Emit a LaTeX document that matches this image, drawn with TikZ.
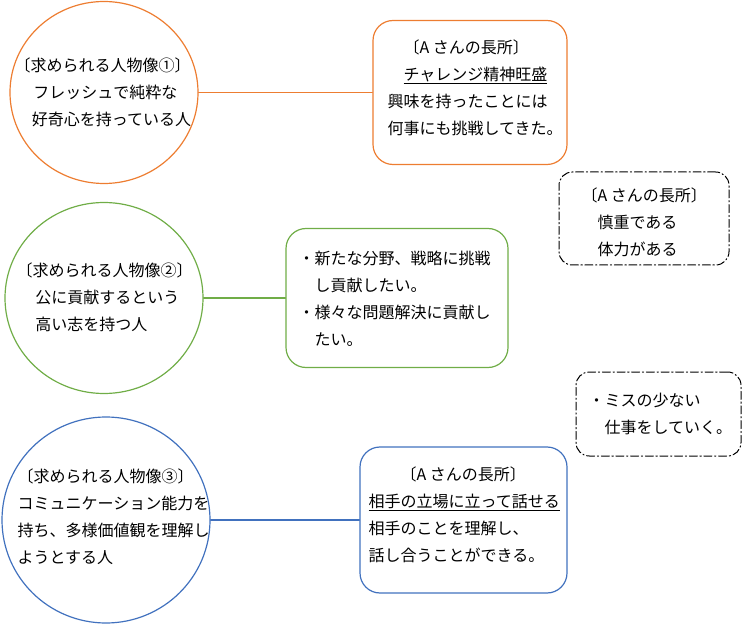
\documentclass[tikz,border=0pt]{standalone}
\usepackage{fontspec}
\setmainfont{Noto Sans CJK JP}
\usetikzlibrary{shapes.geometric}

\definecolor{orangeline}{RGB}{237,125,49}
\definecolor{greenline}{RGB}{112,173,71}
\definecolor{blueline}{RGB}{65,113,190}

\begin{document}
\begin{tikzpicture}[line width=0.9pt, line cap=round, line join=round, x=0.75pt, y=-0.75pt,
  person/.style={ellipse, draw, inner sep=0pt},
  merit/.style={rectangle, draw, rounded corners=15pt, inner sep=0pt},
  note/.style={rectangle, draw=black, line width=0.75pt, rounded corners=10pt,
    dash pattern=on 6pt off 2pt on 1pt off 2pt, inner sep=0pt},
  txt/.style={anchor=north west, align=left, inner sep=0pt, font=\fontsize{12}{20.25}\selectfont}]
  \useasboundingbox (0,0) rectangle (743,624);
  % persons wanted
  \node[person, draw=orangeline, minimum width=141pt, minimum height=136.5pt] (p1) at (104,92.5) {};
  \node[person, draw=greenline, minimum width=148.5pt, minimum height=143.25pt] (p2) at (104,298) {};
  \node[person, draw=blueline, minimum width=156pt, minimum height=154.5pt] (p3) at (106,520) {};
  \node[txt] (p1txt) at (14,57) {〔求められる人物像①〕\\ \hspace{14pt}フレッシュで純粋な\\ \hspace{13pt}好奇心を持っている人};
  \node[txt] (p2txt) at (16,262) {〔求められる人物像②〕\\ \hspace{14pt}公に貢献するという\\ \hspace{14pt}高い志を持つ人};
  \node[txt] (p3txt) at (17,468) {〔求められる人物像③〕\\コミュニケーション能力を\\持ち、多様価値観を理解し\\ようとする人};
  % strengths
  \node[merit, draw=orangeline, minimum width=145.5pt, minimum height=108pt] (m1) at (470,92.5) {};
  \node[merit, draw=greenline, minimum width=166.5pt, minimum height=104.25pt] (m2) at (397,298) {};
  \node[merit, draw=blueline, minimum width=155.25pt, minimum height=109.5pt] (m3) at (463.5,520) {};
  \node[txt] (m1txt) at (387,39) {\hspace{1em}〔A さんの長所〕\\ \hspace{1em}\underline{チャレンジ精神旺盛}\\興味を持ったことには\\何事にも挑戦してきた。};
  \node[txt] (m2txt) at (298,250) {・新たな分野、戦略に挑戦\\ \hspace{1em}し貢献したい。\\・様々な問題解決に貢献し\\ \hspace{1em}たい。};
  \node[txt] (m3txt) at (368,466) {\hspace{2em}〔A さんの長所〕\\\underline{相手の立場に立って話せる}\\相手のことを理解し、\\話し合うことができる。};
  % extra notes
  \node[note, minimum width=127.5pt, minimum height=69.75pt] (n1) at (644,218.5) {};
  \node[note, minimum width=123.75pt, minimum height=63pt] (n2) at (658.5,414) {};
  \node[txt] (n1txt) at (581,187) {〔A さんの長所〕\\ \hspace{1em}慎重である\\ \hspace{1em}体力がある};
  \node[txt] (n2txt) at (588,392) {・ミスの少ない\\ \hspace{1em}仕事をしていく。};
  % links
  \draw[orangeline] (p1.east) -- (m1.west);
  \draw[greenline] (p2.east) -- (m2.west);
  \draw[blueline] (p3.east) -- (m3.west);
\end{tikzpicture}
\end{document}
